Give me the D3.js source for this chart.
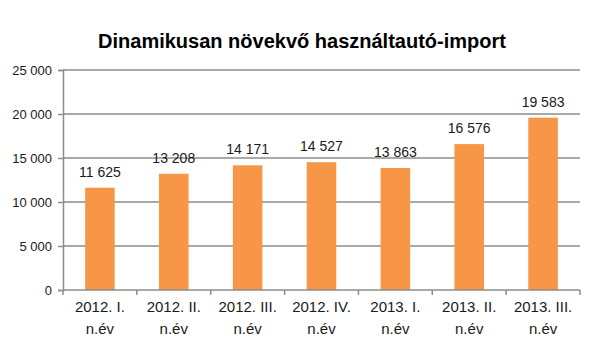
<!DOCTYPE html>
<html><head><meta charset="utf-8">
<script src="https://cdn.jsdelivr.net/npm/d3@7"></script>
<style>body{margin:0;background:#fff}svg{display:block}text{font-family:"Liberation Sans",Arial,sans-serif;fill:#1a1a1a}</style>
</head><body><svg id="c" width="600" height="347"></svg>
<script>
const categories = [["2012. I.","n.év"],["2012. II.","n.év"],["2012. III.","n.év"],["2012. IV.","n.év"],["2013. I.","n.év"],["2013. II.","n.év"],["2013. III.","n.év"]];
const values = [11625,13208,14171,14527,13863,16576,19583];
const yTicks = [0,5000,10000,15000,20000,25000];
const title = "Dinamikusan növekvő használtautó-import";

const svg = d3.select("#c");
const m = {l:63, r:580, t:70, b:290};
const fmt = v => d3.format(",")(v).replace(/,/g," ");
const x = d3.scaleBand().domain(d3.range(values.length)).range([m.l, m.r]).paddingInner(0.6).paddingOuter(0.3);
const y = d3.scaleLinear().domain([0,25000]).range([m.b, m.t]);

svg.append("text").attr("x",302).attr("y",48).attr("text-anchor","middle")
  .style("font-size","20px").style("font-weight","bold").style("fill","#000").text(title);

// gridlines
svg.append("g").selectAll("line").data(yTicks.filter(d=>d>0)).join("line")
  .attr("x1",m.l).attr("x2",m.r).attr("y1",d=>y(d)).attr("y2",d=>y(d))
  .attr("stroke","#8c8c8c").attr("stroke-width",1.5);

// y axis
const ya = svg.append("g").attr("transform",`translate(${m.l},0)`)
  .call(d3.axisLeft(y).tickValues(yTicks).tickFormat(fmt).tickSize(5).tickPadding(6));
ya.select(".domain").attr("stroke","#8c8c8c").attr("stroke-width",1.5);
ya.selectAll(".tick line").attr("stroke","#8c8c8c").attr("stroke-width",1.5);
ya.selectAll("text").style("font-size","13px").style("fill","#1a1a1a").attr("font-family",null);

// bars
svg.append("g").selectAll("rect").data(values).join("rect")
  .attr("x",(d,i)=>x(i)).attr("width",x.bandwidth())
  .attr("y",d=>y(d)).attr("height",d=>y(0)-y(d)).attr("fill","#F79646");

// x axis
const step = (m.r-m.l)/values.length;
const xg = svg.append("g");
xg.append("line").attr("x1",m.l).attr("x2",m.r).attr("y1",m.b).attr("y2",m.b).attr("stroke","#8c8c8c").attr("stroke-width",1.5);
xg.selectAll("line.t").data(d3.range(values.length+1)).join("line").attr("class","t")
  .attr("x1",i=>m.l+i*step).attr("x2",i=>m.l+i*step).attr("y1",m.b).attr("y2",m.b+5)
  .attr("stroke","#8c8c8c").attr("stroke-width",1.5);
const lab = xg.selectAll("text").data(categories).join("text")
  .attr("text-anchor","middle").style("font-size","15px");
lab.append("tspan").attr("x",(d,i)=>x(i)+x.bandwidth()/2).attr("y",312).text(d=>d[0]);
lab.append("tspan").attr("x",(d,i)=>x(i)+x.bandwidth()/2).attr("y",334).text(d=>d[1]);

// data labels
svg.append("g").selectAll("text").data(values).join("text")
  .attr("x",(d,i)=>x(i)+x.bandwidth()/2).attr("y",d=>y(d)-11)
  .attr("text-anchor","middle").style("font-size","14px").text(fmt);
</script></body></html>
